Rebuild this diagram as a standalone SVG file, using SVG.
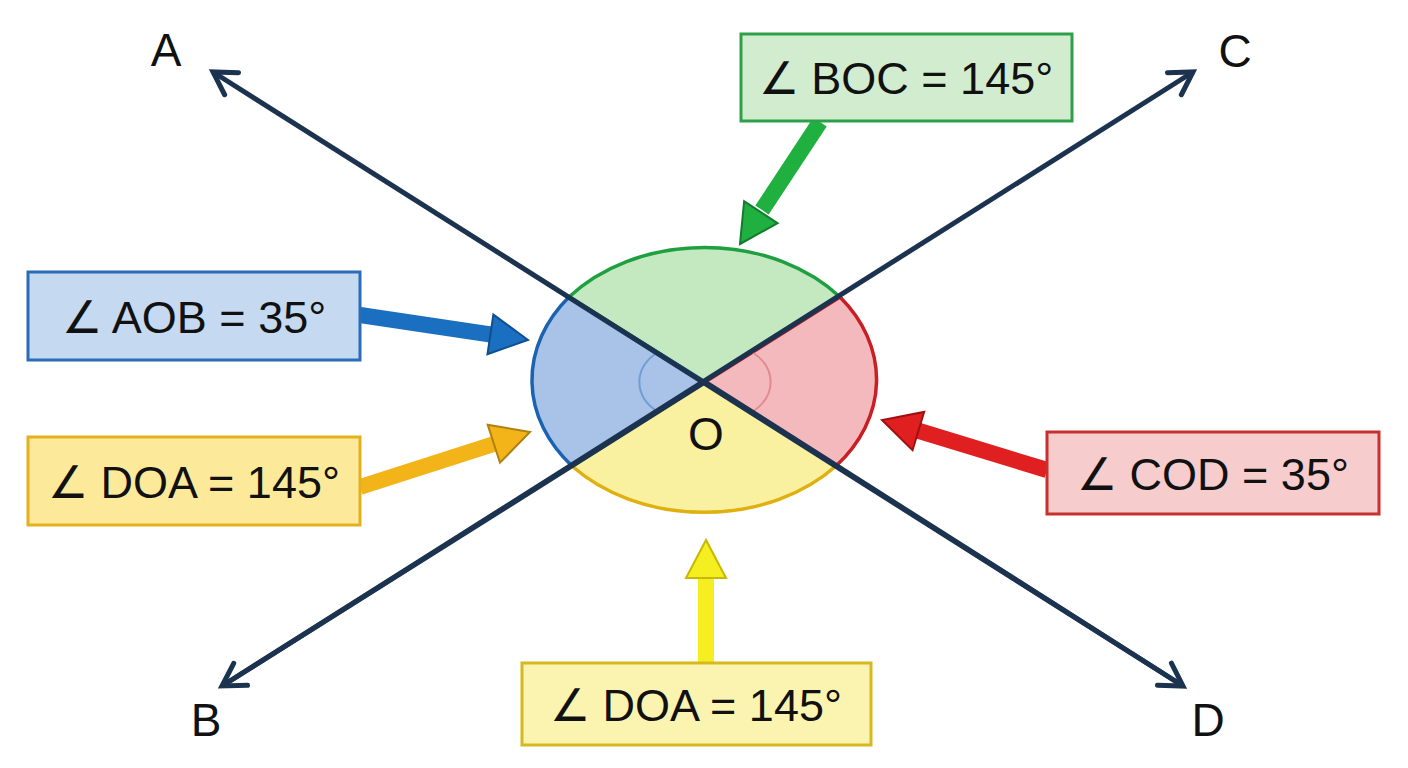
<svg xmlns="http://www.w3.org/2000/svg" width="1408" height="768" viewBox="0 0 1408 768">
<defs>
<marker id="ah" viewBox="-30 -20 50 40" refX="0" refY="0" markerWidth="50" markerHeight="40" markerUnits="userSpaceOnUse" orient="auto" style="overflow:visible">
<path d="M-22,-13 L0,0 L-22,13" fill="none" stroke="#1c3350" stroke-width="5" stroke-linejoin="miter" stroke-linecap="round"/>
</marker>
<polygon id="arr" points="0,0 -38,-20 -38,20"/>
</defs>
<style>
text{font-family:"Liberation Sans",Arial,sans-serif;fill:#111}
.lbl{font-size:46px}
.bx{font-size:45px}
.ray{stroke:#1c3350;stroke-width:5;fill:none}
</style>
<rect width="1408" height="768" fill="#fff"/>
<g id="sectors" stroke-width="3.5">
<path d="M705,382 L569,297 A175,135 0 0 1 840,297 Z" fill="#c4e8bf" stroke="#1fa040"/>
<path d="M705,382 L840,297 A175,135 0 0 1 836,466 Z" fill="#f4b9bd" stroke="#c81e24"/>
<path d="M705,382 L836,466 A175,135 0 0 1 572,466 Z" fill="#faf1a0" stroke="#e0b010"/>
<path d="M705,382 L572,466 A175,135 0 0 1 569,297 Z" fill="#a9c3e8" stroke="#1a63b0"/>
<path d="M658,352 A55,40 0 0 0 658,412" fill="none" stroke="#6f9ed6" stroke-width="2"/>
<path d="M752,352 A55,40 0 0 1 752,412" fill="none" stroke="#e28a90" stroke-width="2"/>
</g>
<g id="connectors">
<line class="ray" x1="1183" y1="686" x2="213" y2="72" marker-end="url(#ah)"/>
<line class="ray" x1="222" y1="686" x2="1193" y2="72" marker-end="url(#ah)"/>
<line class="ray" x1="705" y1="382" x2="222" y2="686" marker-end="url(#ah)"/>
<line class="ray" x1="705" y1="382" x2="1183" y2="686" marker-end="url(#ah)"/>
<line x1="820" y1="122" x2="762" y2="210" stroke="#1fb040" stroke-width="16"/>
<use href="#arr" transform="translate(740,244) rotate(123.3)" fill="#1fb040" stroke="#137a30" stroke-width="2"/>
<line x1="360" y1="315" x2="494" y2="335" stroke="#1a6fc0" stroke-width="16"/>
<use href="#arr" transform="translate(528,340) rotate(8.5)" fill="#1a6fc0" stroke="#0f4f90" stroke-width="2"/>
<line x1="360" y1="487" x2="497" y2="443" stroke="#f2b418" stroke-width="16"/>
<use href="#arr" transform="translate(530,432) rotate(-17.9)" fill="#f2b418" stroke="#b08010" stroke-width="2"/>
<line x1="1047" y1="470" x2="916" y2="430" stroke="#e02020" stroke-width="16"/>
<use href="#arr" transform="translate(882,420) rotate(196.9)" fill="#e02020" stroke="#a01010" stroke-width="2"/>
<line x1="706" y1="663" x2="706" y2="576" stroke="#f5ee20" stroke-width="16"/>
<use href="#arr" transform="translate(706,540) rotate(-90)" fill="#f5ee20" stroke="#c8b800" stroke-width="2"/>
</g>
<g id="labels">
<text class="lbl" x="166" y="66" text-anchor="middle">A</text>
<text class="lbl" x="1235" y="67" text-anchor="middle">C</text>
<text class="lbl" x="206" y="736" text-anchor="middle">B</text>
<text class="lbl" x="1208" y="736" text-anchor="middle">D</text>
<text class="lbl" x="706" y="450" text-anchor="middle">O</text>
</g>
<g id="boc"><rect x="741" y="34" width="331" height="87" fill="#d2ecd0" stroke="#2fa04a" stroke-width="3"/><text class="bx" x="906" y="94" text-anchor="middle">∠ BOC = 145°</text></g>
<g id="aob"><rect x="28" y="272" width="332" height="88" fill="#c5d9f1" stroke="#2a6cb8" stroke-width="3"/><text class="bx" x="194" y="333" text-anchor="middle">∠ AOB = 35°</text></g>
<g id="doa1"><rect x="28" y="437" width="332" height="88" fill="#fde99a" stroke="#e5b020" stroke-width="3"/><text class="bx" x="194" y="498" text-anchor="middle">∠ DOA = 145°</text></g>
<g id="cod"><rect x="1047" y="432" width="332" height="82" fill="#f6cccc" stroke="#c83030" stroke-width="3"/><text class="bx" x="1213" y="490" text-anchor="middle">∠ COD = 35°</text></g>
<g id="doa2"><rect x="522" y="663" width="349" height="82" fill="#fbf4b0" stroke="#d8b820" stroke-width="3"/><text class="bx" x="696" y="721" text-anchor="middle">∠ DOA = 145°</text></g>
</svg>
